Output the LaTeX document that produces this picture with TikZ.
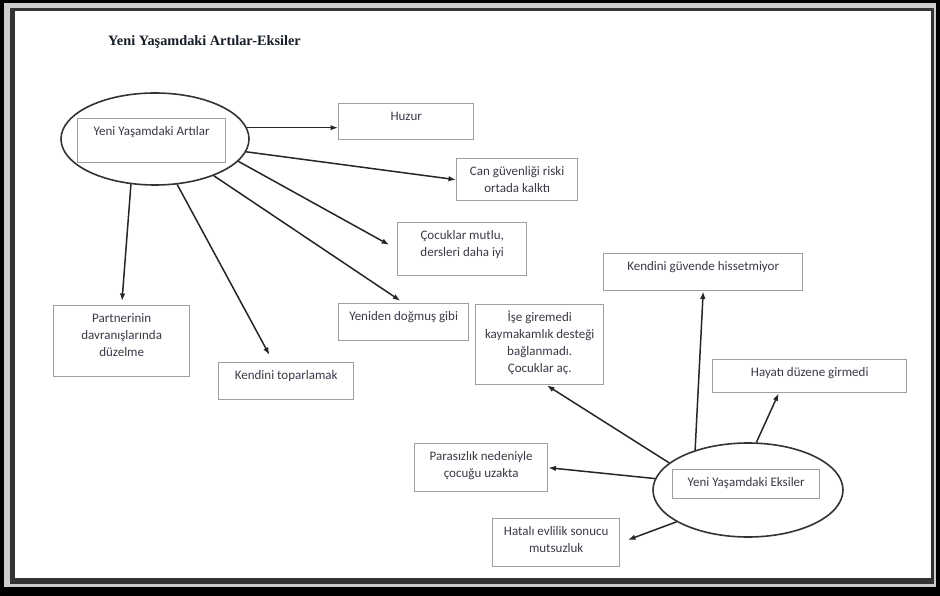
\documentclass[tikz,border=0pt]{standalone}
\usepackage{fontspec}
\setmainfont{Carlito}
\newfontfamily\titlefont{Liberation Serif}
\usetikzlibrary{shapes.geometric,arrows.meta}
\definecolor{txtgray}{RGB}{58,58,72}
\definecolor{titleblue}{RGB}{22,30,40}
\newcommand{\btxt}[3]{\parbox[t][#2][t]{#1}{\centering\vspace*{5pt}\strut#3}}
\begin{document}
\begin{tikzpicture}[x=1pt,y=-1pt,
  box/.style={draw=gray!75,line width=1.4pt,inner sep=0pt,anchor=north west,
    font=\fontsize{13}{17}\selectfont,text=txtgray},
  oval/.style={ellipse,draw=black!80,line width=1.6pt,inner sep=0pt},
  arr/.style={-{Latex[length=7.5pt,width=5.5pt]},draw=black!85,line width=1.5pt}]
\useasboundingbox (0,0) rectangle (940,596);

\fill[black] (0,0) rectangle (940,596);
\fill[gray!40] (4,3) rectangle (936,587);
\fill[black!80] (10,8) rectangle (934,584);
\fill[white] (15,11) rectangle (931,578);

\node[anchor=base west,inner sep=0pt,text=titleblue,font=\titlefont\bfseries\fontsize{14.3}{17}\selectfont] (title) at (108,46) {Yeni Yaşamdaki Artılar-Eksiler};

\node[oval,minimum width=188pt,minimum height=92pt] (artE) at (155,139) {};
\node[box] (artR) at (77,118) {\btxt{148pt}{44pt}{Yeni Yaşamdaki Artılar}};

\node[box] (huzur) at (338,103) {\btxt{135pt}{36pt}{Huzur}};
\node[box] (can) at (456,158) {\btxt{121pt}{42pt}{Can güvenliği riski\\ortada kalktı}};
\node[box] (cocuk) at (397,222) {\btxt{129pt}{53pt}{Çocuklar mutlu,\\dersleri daha iyi}};
\node[box] (yeniden) at (338,303) {\btxt{130pt}{37pt}{Yeniden doğmuş gibi}};
\node[box] (partner) at (53,305) {\btxt{136pt}{71pt}{Partnerinin\\davranışlarında\\düzelme}};
\node[box] (toparla) at (218,362) {\btxt{135pt}{37pt}{Kendini toparlamak}};

\node[oval,minimum width=190pt,minimum height=94pt] (eksE) at (748,490) {};
\node[box] (eksR) at (672,469) {\btxt{147pt}{29pt}{Yeni Yaşamdaki Eksiler}};

\node[box] (guvende) at (603,253) {\btxt{199pt}{37pt}{Kendini güvende hissetmiyor}};
\node[box] (ise) at (475,304) {\btxt{128pt}{80pt}{İşe giremedi\\kaymakamlık desteği\\bağlanmadı.\\Çocuklar aç.}};
\node[box] (hayat) at (712,359) {\btxt{194pt}{33pt}{Hayatı düzene girmedi}};
\node[box] (parasiz) at (414,443) {\btxt{133pt}{48pt}{Parasızlık nedeniyle\\çocuğu uzakta}};
\node[box] (hatali) at (492,518) {\btxt{127pt}{48pt}{Hatalı evlilik sonucu\\mutsuzluk}};

\draw[arr] (artE.7) -- (artE.7 -| huzur.west);
\draw[arr] (artE.-8) -- (can.west);
\draw[arr,shorten >=9pt] (artE.-15) -- (cocuk.west);
\draw[arr,shorten >=4pt] (artE.-32) -- (yeniden.north);
\draw[arr,shorten >=8pt] (artE.-64) -- (toparla.124);
\draw[arr,shorten >=4pt] (artE.242) -- (partner.north);

\draw[arr] (eksE.143) -- (guvende.south);
\draw[arr] (eksE.80) -- (hayat.209);
\draw[arr] (eksE.161) -- (ise.280);
\draw[arr] (eksE.173) -- (parasiz.east);
\draw[arr,shorten >=8pt] (eksE.204) -- (hatali.east);
\end{tikzpicture}
\end{document}
